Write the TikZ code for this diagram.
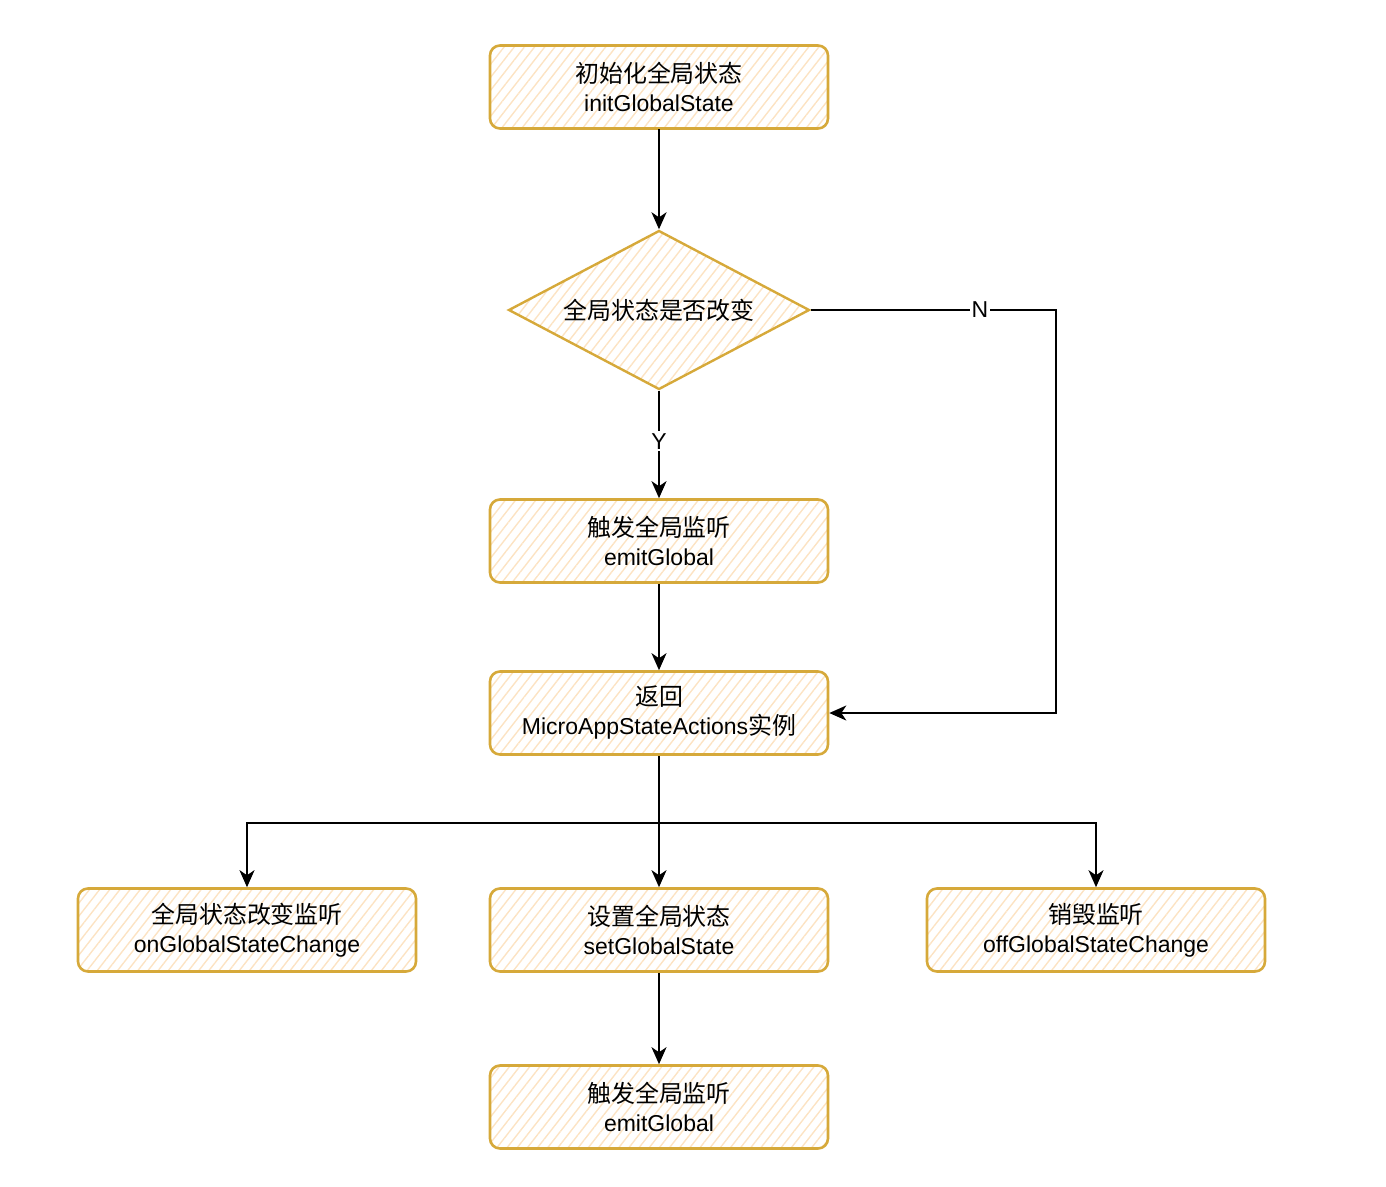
\documentclass[tikz,border=0pt]{standalone}
\usepackage{fontspec}
\setmainfont{Liberation Sans}
\newfontfamily\cjk[Scale=1.04]{Noto Sans CJK SC}
\usetikzlibrary{shapes.geometric,arrows.meta,patterns.meta}
\definecolor{stroke}{HTML}{D6A93A}
\definecolor{hatch}{HTML}{FCE3C3}
\begin{document}
\begin{tikzpicture}[x=1pt,y=-1pt,
  txt/.style={font=\fontsize{23}{29}\selectfont, align=center, text=black},
  box/.style={txt, draw=stroke, line width=2.6pt, rounded corners=10pt,
    minimum width=338pt, minimum height=83pt, inner sep=0pt,
    pattern={Lines[angle=52, distance=8pt, line width=1.4pt]}, pattern color=hatch},
  dec/.style={txt, diamond, shape aspect=1.893, draw=stroke, line width=2.4pt,
    minimum width=301pt, minimum height=159pt, inner sep=0pt,
    pattern={Lines[angle=52, distance=8pt, line width=1.4pt]}, pattern color=hatch},
  arr/.style={draw=black, line width=2pt, -{Stealth[length=17pt,width=15pt,inset=5pt]}},
  lbl/.style={txt, fill=white, inner sep=2pt}]
\useasboundingbox (0,0) rectangle (1386,1186);

\node[box] (init) at (659,87) {{\cjk 初始化全局状态}\\initGlobalState};
\node[dec] (chg) at (659,310) {\cjk 全局状态是否改变};
\node[box] (emit1) at (659,541) {{\cjk 触发全局监听}\\emitGlobal};
\node[box] (ret) at (659,713) {{\cjk 返回}\\MicroAppStateActions{\cjk 实例}};
\node[box] (onch) at (247,930) {{\cjk 全局状态改变监听}\\onGlobalStateChange};
\node[box] (setg) at (659,930) {{\cjk 设置全局状态}\\setGlobalState};
\node[box] (offch) at (1096,930) {{\cjk 销毁监听}\\offGlobalStateChange};
\node[box] (emit2) at (659,1107) {{\cjk 触发全局监听}\\emitGlobal};

\coordinate (ncorner) at (1056,310);
\coordinate (split) at (659,823);

\draw[arr] (init) -- (chg);
\draw[arr] (chg) -- node[lbl, pos=0.47]{Y} (emit1);
\draw[arr] (chg.east) -- node[lbl, pos=0.69]{N} (ncorner) |- (ret.east);
\draw[arr] (emit1) -- (ret);
\draw[arr] (ret) -- (setg);
\draw[arr] (split) -| (onch.north);
\draw[arr] (split) -| (offch.north);
\draw[arr] (setg) -- (emit2);
\end{tikzpicture}
\end{document}
